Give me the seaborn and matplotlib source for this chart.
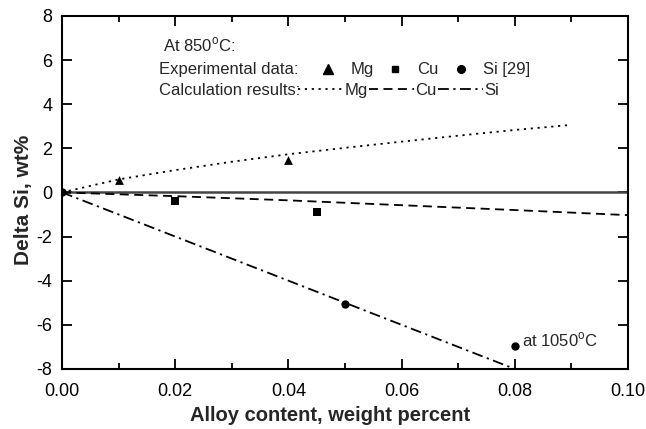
import matplotlib
matplotlib.use("Agg")
import matplotlib.pyplot as plt
from matplotlib.lines import Line2D
import seaborn as sns

# ---- data ----
mg_exp_x = [0.01, 0.04]
mg_exp_y = [0.57, 1.48]
cu_exp_x = [0.02, 0.045]
cu_exp_y = [-0.40, -0.90]
si_exp_x = [0.0, 0.05, 0.08]
si_exp_y = [0.0, -5.05, -6.95]

mg_calc_x = [0.0, 0.01, 0.02, 0.03, 0.04, 0.05, 0.06, 0.07, 0.08, 0.09]
mg_calc_y = [0.0, 0.59, 1.01, 1.39, 1.73, 2.02, 2.30, 2.57, 2.83, 3.06]
cu_calc_x = [0.0, 0.02, 0.04, 0.06, 0.08, 0.10]
cu_calc_y = [0.0, -0.17, -0.36, -0.58, -0.80, -1.03]
si_calc_x = [0.0, 0.05, 0.08]
si_calc_y = [0.0, -5.0, -8.0]

x_ticks = [0.00, 0.02, 0.04, 0.06, 0.08, 0.10]
y_ticks = [-8, -6, -4, -2, 0, 2, 4, 6, 8]

sns.set_style("ticks")
plt.rcParams['font.family'] = ['Liberation Sans', 'DejaVu Sans']
plt.rcParams['mathtext.fontset'] = 'custom'
plt.rcParams['mathtext.rm'] = 'Liberation Sans'
plt.rcParams['axes.unicode_minus'] = False

fig = plt.figure(figsize=(6.46, 4.29), dpi=100)
ax = fig.add_axes([0.096, 0.14, 0.876, 0.823])

ax.axhline(0, color='#444444', lw=1.8, zorder=1)

lw = 1.3
dot_ls = (0, (1.2, 2.6))
dash_ls = (0, (5, 3))
dashdot_ls = (0, (6, 2.5, 1.2, 2.5))
sns.lineplot(x=mg_calc_x, y=mg_calc_y, ax=ax, color='black', lw=lw, linestyle=dot_ls, sort=False)
sns.lineplot(x=cu_calc_x, y=cu_calc_y, ax=ax, color='black', lw=lw, linestyle=dash_ls, sort=False)
sns.lineplot(x=si_calc_x, y=si_calc_y, ax=ax, color='black', lw=lw, linestyle=dashdot_ls, sort=False)

sns.scatterplot(x=mg_exp_x, y=mg_exp_y, ax=ax, marker='^', color='black', s=40, linewidth=0, zorder=3)
sns.scatterplot(x=cu_exp_x, y=cu_exp_y, ax=ax, marker='s', color='black', s=28, linewidth=0, zorder=3)
sns.scatterplot(x=si_exp_x, y=si_exp_y, ax=ax, marker='o', color='black', s=36, linewidth=0, zorder=3)

ax.set_xlim(0, 0.10)
ax.set_ylim(-8, 8)
ax.set_xticks(x_ticks)
ax.set_xticklabels([f"{v:.2f}" for v in x_ticks])
ax.set_yticks(y_ticks)
ax.set_xticks([0.01, 0.03, 0.05, 0.07, 0.09], minor=True)
ax.tick_params(which='both', direction='in', top=True, right=True, width=1.3,
               labelsize=13, colors='black')
ax.tick_params(which='major', length=7)
ax.tick_params(which='minor', length=4)
ax.tick_params(axis='x', which='major', pad=10)
ax.tick_params(axis='y', which='major', pad=7)
for sp in ax.spines.values():
    sp.set_visible(True)
    sp.set_linewidth(1.5)
    sp.set_color('black')

ax.set_xlabel("Alloy content, weight percent", fontsize=14.5, fontweight='bold', labelpad=1)
ax.xaxis.set_label_coords(0.474, -0.105)
ax.set_ylabel("Delta Si, wt%", fontsize=15, fontweight='bold', labelpad=5)
ax.yaxis.set_label_coords(-0.052, 0.48)

fs = 12
ax.text(0.178, 0.918, "At 850$^\\mathrm{o}$C:", transform=ax.transAxes, fontsize=fs, va='center')
ax.text(0.172, 0.847, "Experimental data:", transform=ax.transAxes, fontsize=fs, va='center')
ax.text(0.172, 0.790, "Calculation results:", transform=ax.transAxes, fontsize=fs, va='center')

h1 = [Line2D([], [], marker='^', color='black', ls='none', ms=6.5),
      Line2D([], [], marker='s', color='black', ls='none', ms=5),
      Line2D([], [], marker='o', color='black', ls='none', ms=5.5)]
leg1 = ax.legend(h1, ["Mg", "Cu", "Si [29]"], ncol=3, frameon=False, fontsize=fs,
                 loc='center left', bbox_to_anchor=(0.46, 0.847), borderpad=0,
                 borderaxespad=0, handlelength=0.7, handletextpad=0.97, columnspacing=0.97)
ax.add_artist(leg1)

h2 = [Line2D([], [], color='black', lw=lw, ls=dot_ls),
      Line2D([], [], color='black', lw=lw, ls=dash_ls),
      Line2D([], [], color='black', lw=lw, ls=dashdot_ls)]
ax.legend(h2, ["Mg", "Cu", "Si"], ncol=3, frameon=False, fontsize=fs,
          loc='center left', bbox_to_anchor=(0.417, 0.790), borderpad=0,
          borderaxespad=0, handlelength=2.7, handletextpad=0.1, columnspacing=0.05)

ax.annotate("at 1050$^\\mathrm{o}$C", xy=(si_exp_x[2], si_exp_y[2]), xytext=(5, 4),
            textcoords='offset points', fontsize=fs, va='center', ha='left')

fig.savefig("out.png", dpi=100)
